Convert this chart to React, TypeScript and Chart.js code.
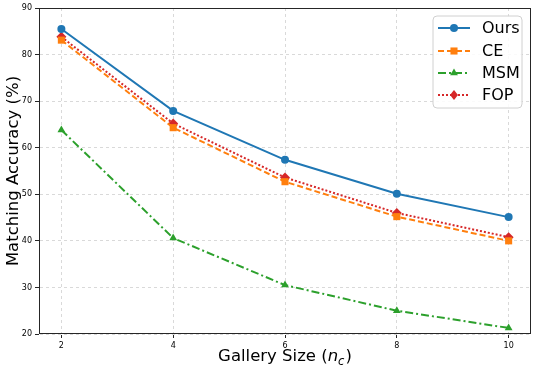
import React, { useEffect, useRef } from "react";
import { Chart, registerables } from "chart.js";

Chart.register(...registerables);

const xValues = [2, 4, 6, 8, 10];
const xTicks = [2, 4, 6, 8, 10];
const yTicks = [20, 30, 40, 50, 60, 70, 80, 90];
const seriesNames = ["Ours", "CE", "MSM", "FOP"];
const ours = [85.5, 67.9, 57.4, 50.1, 45.1];
const ce = [83.1, 64.3, 52.7, 45.2, 40.0];
const msm = [63.8, 40.6, 30.5, 25.0, 21.3];
const fop = [83.8, 65.2, 53.6, 46.0, 40.8];

const colors = ["#1f77b4", "#ff7f0e", "#2ca02c", "#d62728"];
const dashes: number[][] = [[], [6, 3], [8, 3, 2, 3], [2, 2]];
const shapes = ["circle", "rect", "triangle", "rectRot"];
const radii = [4, 5, 4.5, 5];

function drawMarker(ctx: CanvasRenderingContext2D, shape: string, x: number, y: number, r: number, color: string) {
  ctx.save();
  ctx.fillStyle = color;
  ctx.setLineDash([]);
  ctx.beginPath();
  if (shape === "circle") {
    ctx.arc(x, y, r, 0, Math.PI * 2);
  } else if (shape === "rect") {
    const s = r * Math.SQRT1_2;
    ctx.rect(x - s, y - s, 2 * s, 2 * s);
  } else if (shape === "triangle") {
    ctx.moveTo(x, y - r);
    ctx.lineTo(x + r * 0.87, y + r * 0.5);
    ctx.lineTo(x - r * 0.87, y + r * 0.5);
    ctx.closePath();
  } else {
    ctx.moveTo(x, y - r);
    ctx.lineTo(x + r * 0.8, y);
    ctx.lineTo(x, y + r);
    ctx.lineTo(x - r * 0.8, y);
    ctx.closePath();
  }
  ctx.fill();
  ctx.restore();
}

const framePlugin = {
  id: "framePlugin",
  afterDraw(chart: any) {
    const ctx: CanvasRenderingContext2D = chart.ctx;
    const a = chart.chartArea;
    ctx.save();
    ctx.strokeStyle = "#262626";
    ctx.lineWidth = 1;
    ctx.setLineDash([]);
    const l = Math.round(a.left) + 0.5;
    const t = Math.round(a.top) + 0.5;
    const r = Math.round(a.right) - 0.5;
    const b = Math.round(a.bottom) - 0.5;
    ctx.strokeRect(l, t, r - l, b - t);

    // Legend
    const bx = 433, by = 16, bw = 89, bh = 92, rad = 4;
    ctx.beginPath();
    ctx.moveTo(bx + rad, by);
    ctx.lineTo(bx + bw - rad, by);
    ctx.quadraticCurveTo(bx + bw, by, bx + bw, by + rad);
    ctx.lineTo(bx + bw, by + bh - rad);
    ctx.quadraticCurveTo(bx + bw, by + bh, bx + bw - rad, by + bh);
    ctx.lineTo(bx + rad, by + bh);
    ctx.quadraticCurveTo(bx, by + bh, bx, by + bh - rad);
    ctx.lineTo(bx, by + rad);
    ctx.quadraticCurveTo(bx, by, bx + rad, by);
    ctx.closePath();
    ctx.fillStyle = "rgba(255,255,255,0.85)";
    ctx.fill();
    ctx.strokeStyle = "#d0d0d0";
    ctx.lineWidth = 1;
    ctx.stroke();

    const rowsY = [28, 51, 73, 95];
    ctx.font = '16px "DejaVu Sans"';
    ctx.textBaseline = "middle";
    ctx.textAlign = "left";
    for (let i = 0; i < seriesNames.length; i++) {
      const y = rowsY[i];
      ctx.beginPath();
      ctx.strokeStyle = colors[i];
      ctx.lineWidth = 2;
      ctx.setLineDash(dashes[i]);
      ctx.moveTo(438, y);
      ctx.lineTo(470, y);
      ctx.stroke();
      ctx.setLineDash([]);
      drawMarker(ctx, shapes[i], 454, y, radii[i], colors[i]);
      ctx.fillStyle = "#000";
      ctx.fillText(seriesNames[i], 482, y + 1);
    }

    // Axis titles
    const fs = 16.5;
    ctx.fillStyle = "#000";
    ctx.textBaseline = "middle";
    const p1 = "Gallery Size (";
    const p3 = ")";
    ctx.font = `${fs}px "DejaVu Sans"`;
    const w1 = ctx.measureText(p1).width;
    const w3 = ctx.measureText(p3).width;
    ctx.font = `italic ${fs}px "DejaVu Sans"`;
    const wn = ctx.measureText("n").width;
    ctx.font = `italic ${fs * 0.7}px "DejaVu Sans"`;
    const wc = ctx.measureText("c").width;
    const total = w1 + wn + wc + w3 + 1;
    const cx = (a.left + a.right) / 2;
    let x = cx - total / 2;
    const ty = 357;
    ctx.textAlign = "left";
    ctx.font = `${fs}px "DejaVu Sans"`;
    ctx.fillText(p1, x, ty);
    x += w1;
    ctx.font = `italic ${fs}px "DejaVu Sans"`;
    ctx.fillText("n", x, ty);
    x += wn;
    ctx.font = `italic ${fs * 0.7}px "DejaVu Sans"`;
    ctx.fillText("c", x, ty + 5);
    x += wc + 1;
    ctx.font = `${fs}px "DejaVu Sans"`;
    ctx.fillText(p3, x, ty);

    // y title
    ctx.save();
    ctx.translate(14, (a.top + a.bottom) / 2);
    ctx.rotate(-Math.PI / 2);
    ctx.textAlign = "center";
    ctx.font = `${fs}px "DejaVu Sans"`;
    ctx.fillText("Matching Accuracy (%)", 0, 0);
    ctx.restore();
    ctx.restore();
  },
};

export default function App() {
  const ref = useRef<HTMLCanvasElement | null>(null);
  useEffect(() => {
    document.body.style.margin = "0";
    const canvas = ref.current!;
    const series = [ours, ce, msm, fop];
    const chart = new Chart(canvas, {
      type: "line",
      data: {
        datasets: series.map((vals, i) => ({
          label: seriesNames[i],
          data: xValues.map((xv, j) => ({ x: xv, y: vals[j] })),
          borderColor: colors[i],
          backgroundColor: colors[i],
          borderWidth: 2,
          borderDash: dashes[i],
          pointStyle: shapes[i] as any,
          pointRadius: radii[i],
          pointBorderWidth: 0,
          pointBackgroundColor: colors[i],
          tension: 0,
        })),
      },
      options: {
        animation: false,
        responsive: false,
        devicePixelRatio: 1,
        layout: { padding: { left: 0, top: 8, right: 5, bottom: 0 } },
        plugins: { legend: { display: false }, tooltip: { enabled: false } },
        scales: {
          x: {
            type: "linear",
            min: 1.6,
            max: 10.4,
            afterBuildTicks: (axis: any) => {
              axis.ticks = xTicks.map((v) => ({ value: v }));
            },
            afterFit: (scale: any) => {
              scale.height = 38;
            },
            ticks: {
              font: { family: "DejaVu Sans", size: 8 },
              color: "#000",
              padding: 3,
              maxRotation: 0,
              autoSkip: false,
            },
            grid: { color: "#d9d9d9", tickColor: "#262626", tickLength: 4, lineWidth: 1 },
            border: { display: true, color: "rgba(0,0,0,0)", width: 1, dash: [3, 3] },
          },
          y: {
            type: "linear",
            min: 20,
            max: 90,
            afterBuildTicks: (axis: any) => {
              axis.ticks = yTicks.map((v) => ({ value: v }));
            },
            afterFit: (scale: any) => {
              scale.width = 39;
            },
            ticks: {
              font: { family: "DejaVu Sans", size: 8 },
              color: "#000",
              padding: 3,
              autoSkip: false,
            },
            grid: { color: "#d9d9d9", tickColor: "#262626", tickLength: 4, lineWidth: 1 },
            border: { display: true, color: "rgba(0,0,0,0)", width: 1, dash: [3, 3] },
          },
        },
      },
      plugins: [framePlugin],
    });
    return () => chart.destroy();
  }, []);
  return (
    <div style={{ position: "absolute", left: 0, top: 0, width: 536, height: 372, background: "#fff" }}>
      <canvas ref={ref} width={536} height={372} style={{ width: 536, height: 372 }} />
    </div>
  );
}
